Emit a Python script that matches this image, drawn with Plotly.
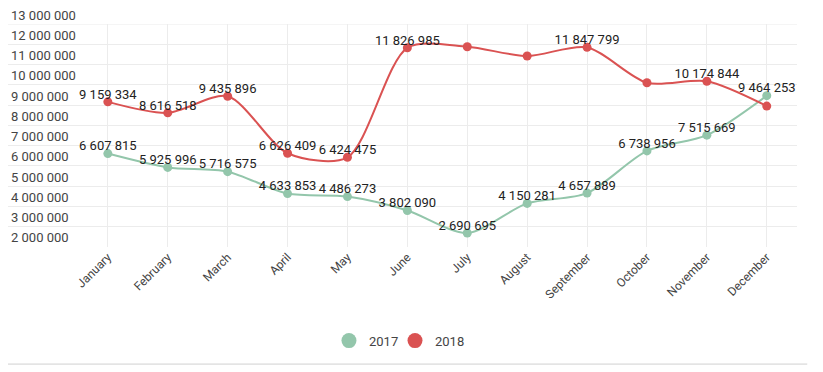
import plotly.graph_objects as go

months = ["January", "February", "March", "April", "May", "June", "July",
          "August", "September", "October", "November", "December"]
values_2017 = [6607815, 5925996, 5716575, 4633853, 4486273, 3802090, 2690695,
               4150281, 4657889, 6738956, 7515669, 9464253]
values_2018 = [9159334, 8616518, 9435896, 6626409, 6424475, 11826985, 11880000,
               11420000, 11847799, 10100000, 10174844, 8950000]
show_label_2017 = [True] * 12
show_label_2018 = [True, True, True, True, True, True, False, False, True, False, True, False]
y_ticks = list(range(2000000, 13000001, 1000000))

GREEN = "#93c6ab"
RED = "#da5252"
FONT = "Roboto, Arial, sans-serif"


def fmt(v):
    return f"{v:,}".replace(",", " ")


def labels(vals, show):
    return [fmt(v) if s else "" for v, s in zip(vals, show)]


fig = go.Figure()
series = [("2017", values_2017, show_label_2017, GREEN, "legend"),
          ("2018", values_2018, show_label_2018, RED, "legend2")]
for name, vals, show, col, lg in series:
    fig.add_trace(go.Scatter(
        x=months, y=vals, mode="lines+markers",
        line=dict(color=col, width=2, shape="spline", smoothing=0.8),
        marker=dict(color=col, size=9),
        cliponaxis=False, showlegend=False, hoverinfo="x+y",
    ))
for name, vals, show, col, lg in series:
    fig.add_trace(go.Scatter(
        x=months, y=vals, mode="text",
        marker=dict(size=4),
        text=labels(vals, show), textposition="top center",
        textfont=dict(family=FONT, size=13, color="#222222"),
        cliponaxis=False, showlegend=False, hoverinfo="skip",
    ))
for name, vals, show, col, lg in series:
    fig.add_trace(go.Scatter(
        x=[None], y=[None], mode="markers", name=name, legend=lg,
        marker=dict(color=col, size=15), showlegend=True,
    ))

legend_style = dict(orientation="h", yanchor="middle", y=-0.42, xanchor="left",
                    font=dict(family=FONT, size=13, color="#444444"),
                    itemsizing="trace", bgcolor="rgba(0,0,0,0)")

fig.update_layout(
    width=823, height=372,
    margin=dict(l=0, r=34, t=16, b=133, autoexpand=False),
    paper_bgcolor="white", plot_bgcolor="white",
    font=dict(family=FONT, size=13, color="#444444"),
    legend=dict(x=0.4068, **legend_style),
    legend2=dict(x=0.4905, **legend_style),
    xaxis=dict(
        range=[-1.667, 11.505], tickangle=-45, showgrid=True, gridcolor="#ececec",
        zeroline=False, showline=False, ticks="", automargin=False,
        tickfont=dict(family=FONT, size=12, color="#444444"),
    ),
    yaxis=dict(
        range=[2000000, 13000000], tickvals=y_ticks[:-1],
        ticktext=[fmt(v) for v in y_ticks[:-1]],
        ticklabelposition="inside top", showgrid=True, gridcolor="#ececec",
        zeroline=False, showline=False, ticks="", automargin=False,
        tickfont=dict(family=FONT, size=13, color="#444444"),
    ),
    shapes=[
        dict(type="line", xref="paper", yref="paper", x0=-0.001, x1=1.013,
             y0=-0.525, y1=-0.525, line=dict(color="#d0d0d0", width=1)),
        dict(type="line", xref="paper", yref="y", x0=0, x1=1,
             y0=y_ticks[-1], y1=y_ticks[-1], line=dict(color="#ececec", width=1),
             layer="below"),
    ],
    annotations=[dict(xref="paper", yref="y", x=0, y=y_ticks[-1], xanchor="left",
                      yanchor="bottom", showarrow=False, text=fmt(y_ticks[-1]),
                      xshift=1, yshift=-1,
                      font=dict(family=FONT, size=13, color="#444444"))],
)

fig.write_html("out.html")
